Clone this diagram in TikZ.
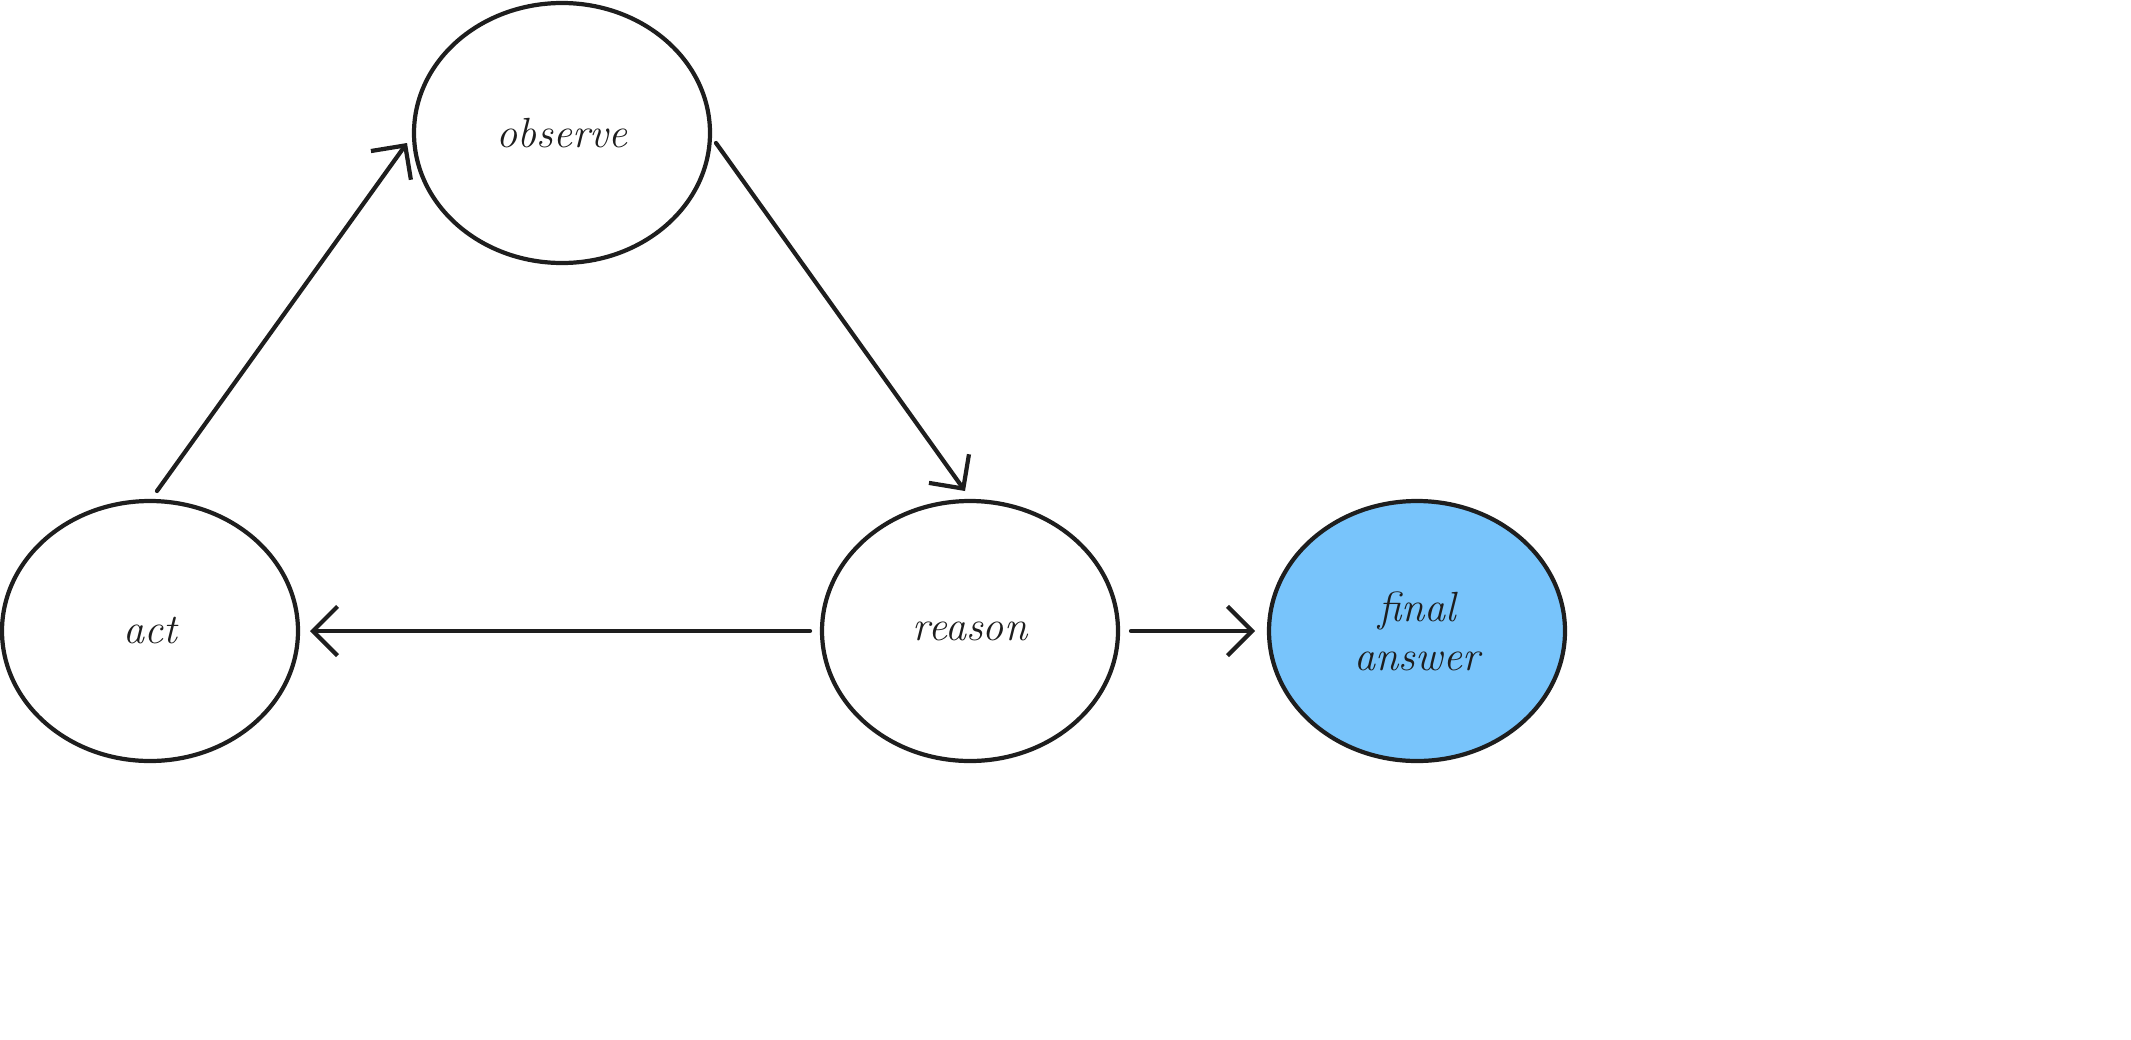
\documentclass[tikz,border=0pt]{standalone}
\usetikzlibrary{arrows.meta,calc,shapes.geometric}
\definecolor{ink}{HTML}{1E1E1E}
\definecolor{blu}{HTML}{78C4FB}
\begin{document}
\begin{tikzpicture}[x=1cm,y=-1cm,
  st/.style={ellipse,draw=ink,line width=1.2pt,minimum width=2.96cm,minimum height=2.6cm,inner sep=0pt,outer sep=0pt,font=\itshape\fontsize{12}{14}\selectfont,text=ink,align=center},
  arr/.style={draw=ink,line width=1.2pt,line cap=round,-{Straight Barb[length=7pt,width=14pt,line width=1.2pt]}}]
\useasboundingbox (0,0) rectangle (21.31,10.39);
\node[st] (obs) at (5.62,1.33) {observe};
\node[st] (act) at (1.50,6.31) {act};
\node[st] (rea) at (9.70,6.31) {reason};
\node[st,fill=blu] (fin) at (14.17,6.31) {final\\answer};
\draw[arr] ($(act.center)+(0.07,-1.40)$) -- ($(obs.center)+(-1.55,0.10)$);
\draw[arr] ($(obs.center)+(1.54,0.10)$) -- ($(rea.center)+(-0.05,-1.40)$);
\draw[arr] ($(rea.center)+(-1.60,0)$) -- ($(act.center)+(1.60,0)$);
\draw[arr] ($(rea.center)+(1.61,0)$) -- ($(fin.center)+(-1.62,0)$);
\end{tikzpicture}
\end{document}
